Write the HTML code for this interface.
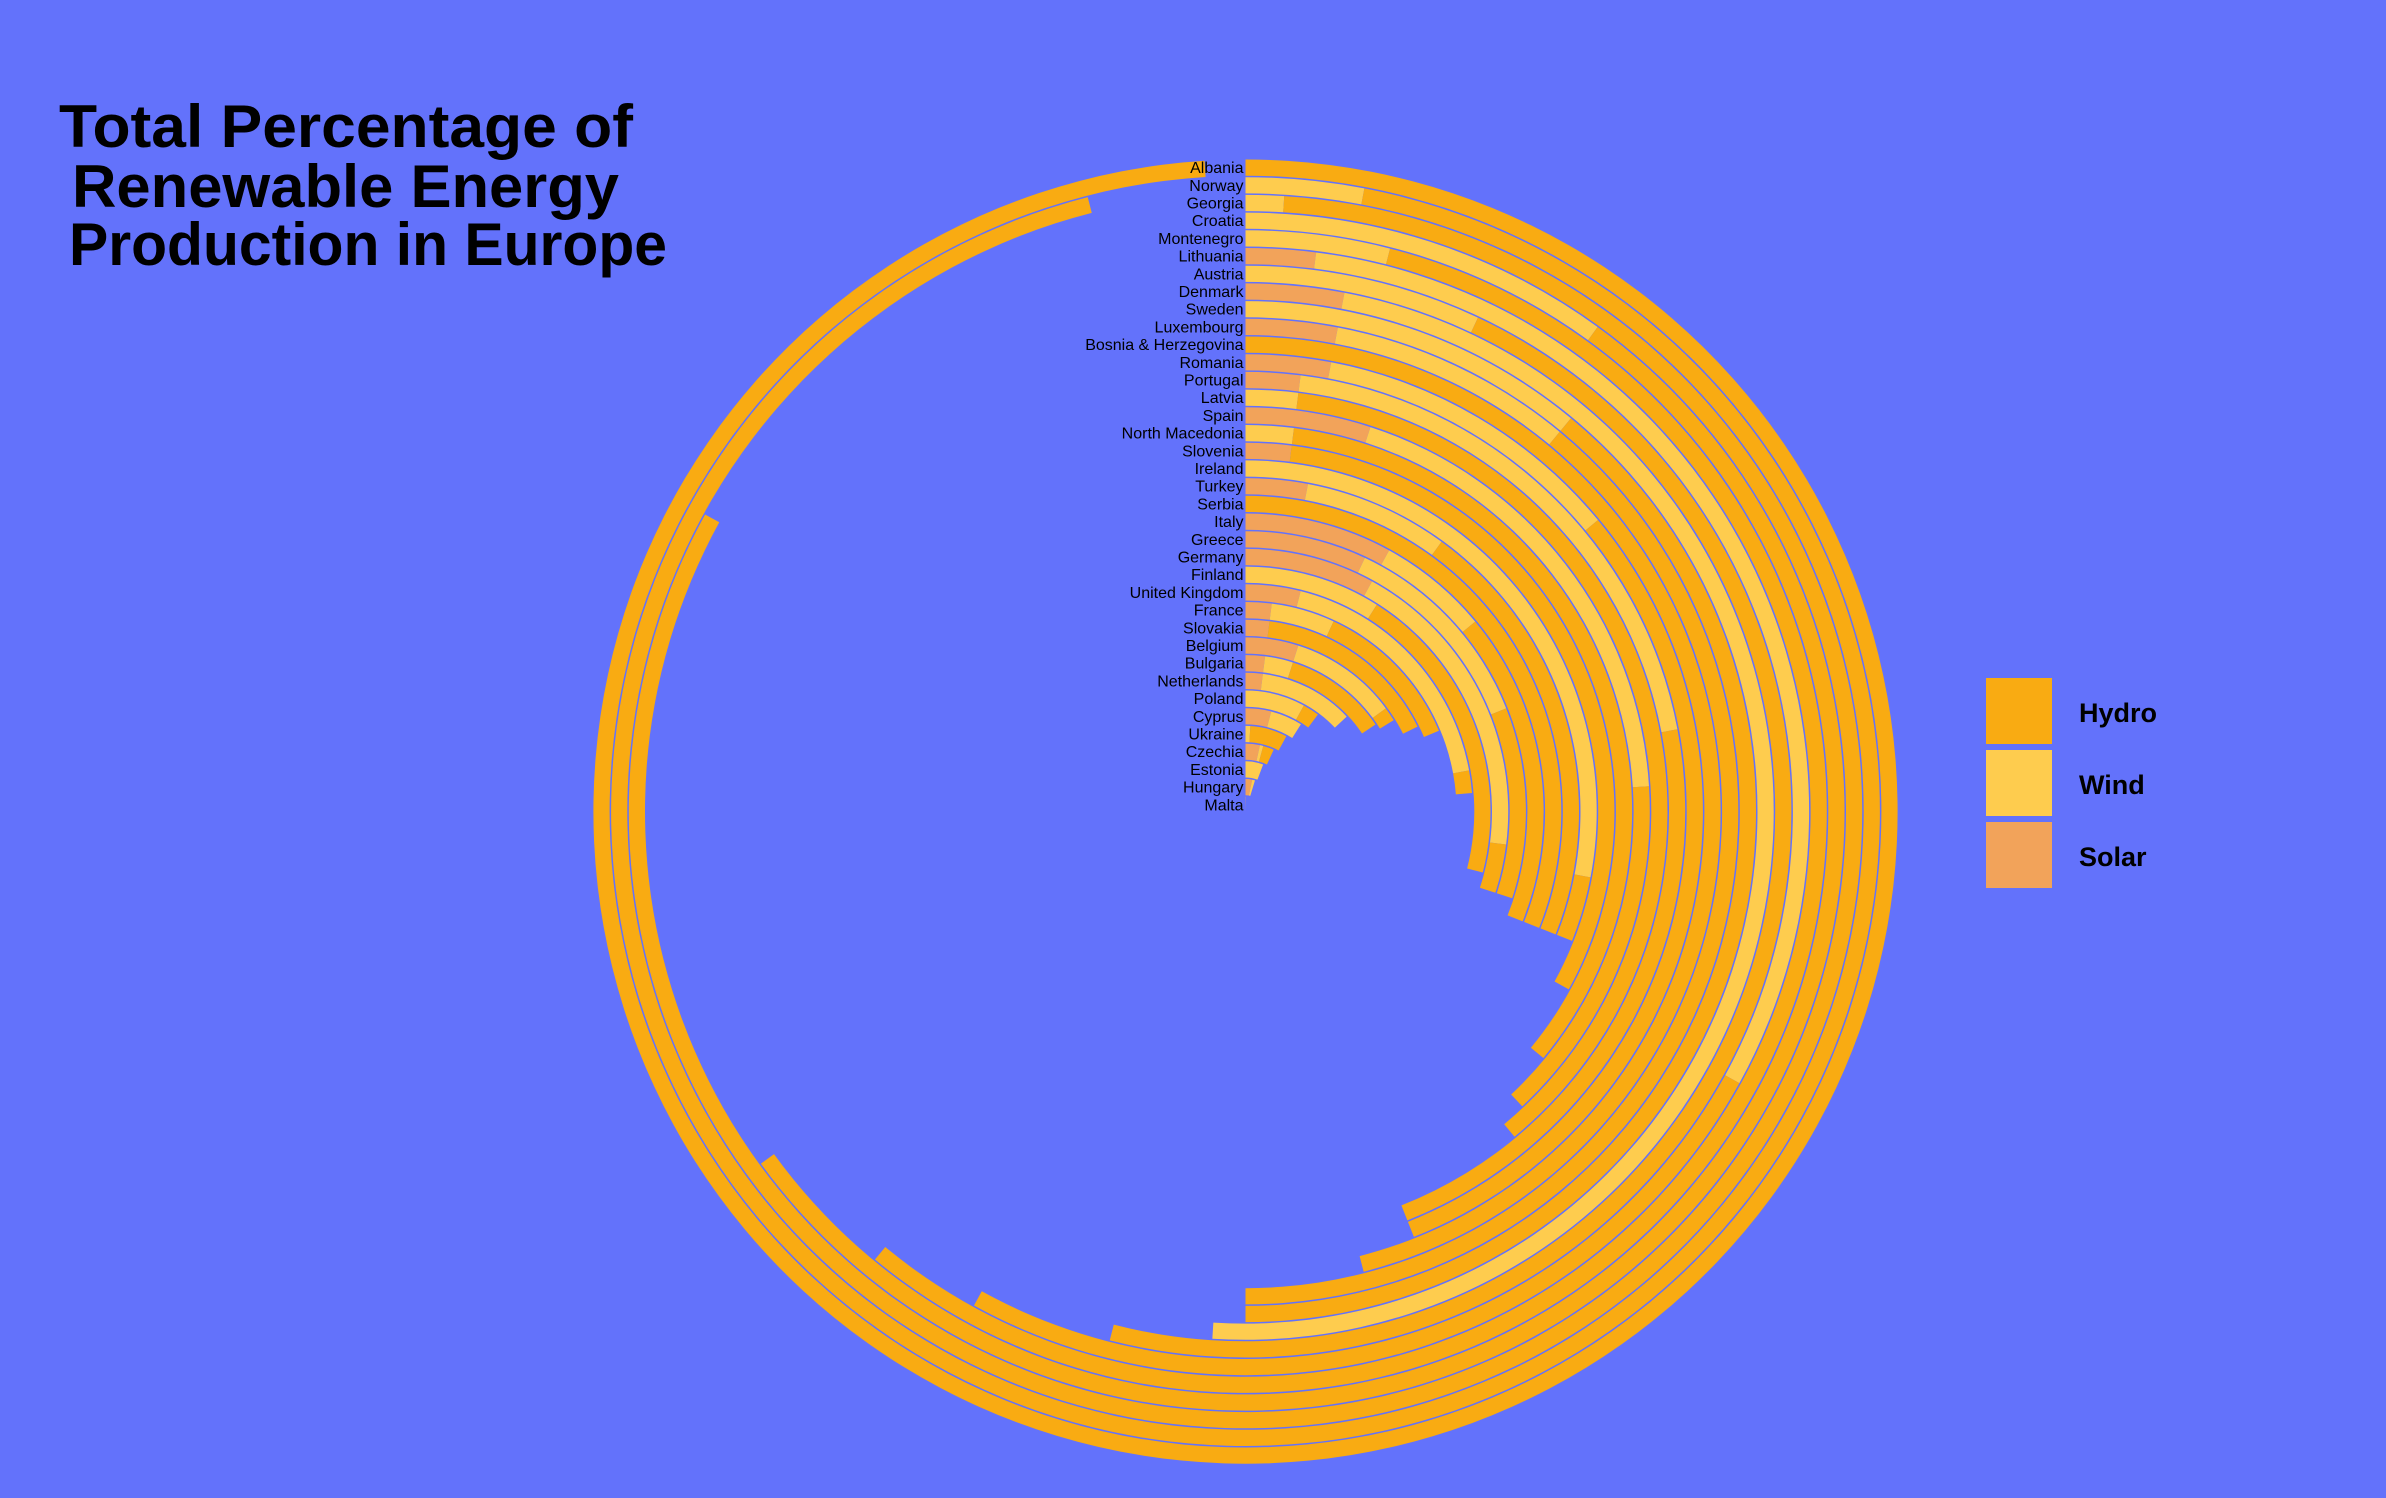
<!DOCTYPE html>
<html><head><meta charset="utf-8"><style>
html,body{margin:0;padding:0;background:#6372FB;}
svg{display:block;}
text{font-family:"Liberation Sans",sans-serif;}
</style></head><body>
<svg id="chart" width="2386" height="1498" viewBox="0 0 2386 1498" xmlns="http://www.w3.org/2000/svg">
<rect x="0" y="0" width="2386" height="1498" fill="#6372FB"/>
<g font-weight="bold" fill="#000" font-size="60">
<text x="59" y="147" textLength="574" lengthAdjust="spacingAndGlyphs">Total Percentage of</text>
<text x="72" y="207" textLength="547" lengthAdjust="spacingAndGlyphs">Renewable Energy</text>
<text x="69" y="265" textLength="598" lengthAdjust="spacingAndGlyphs">Production in Europe</text>
</g>
<g id="rings"></g>
<g id="labels"></g>
<g font-weight="bold" font-size="27" fill="#000">
<rect x="1986" y="678" width="66" height="66" fill="#F9AB12"/>
<text x="2079" y="722">Hydro</text>
<rect x="1986" y="750" width="66" height="66" fill="#FECC4E"/>
<text x="2079" y="794">Wind</text>
<rect x="1986" y="822" width="66" height="66" fill="#F2A35A"/>
<text x="2079" y="866">Solar</text>
</g>
</svg>
<script>
const countries = ["Albania","Norway","Georgia","Croatia","Montenegro","Lithuania","Austria","Denmark","Sweden","Luxembourg","Bosnia & Herzegovina","Romania","Portugal","Latvia","Spain","North Macedonia","Slovenia","Ireland","Turkey","Serbia","Italy","Greece","Germany","Finland","United Kingdom","France","Slovakia","Belgium","Bulgaria","Netherlands","Poland","Cyprus","Ukraine","Czechia","Estonia","Hungary","Malta"];
const solar = [0,0,0,0,0,2,0,3,0,3,0,3,2,0,5,0,2,0,3,0,8,7,8,0,3.9,2,2,4.9,2,2,0,4,0,3.4,0,3.3,0.3];
const wind  = [0,3,1,10,4,31,7,48,11,8,0,11,20,2,19,2,0,28,7,0,6,12,19,9,18.2,4.9,0,10,2.9,11,8,5,0.9,0.8,5.7,1.4,0];
const hydro = [99,93,82,55,57,25,47,0,39,39,46,30,22,37,14,34,31,3,21,31,17,11,3,20,1.6,11.8,15.7,1.3,10.7,0,2.2,0,7,2.6,0,0,0];
const maxValue = 100;
const cx = 1245.5, cy = 811.6, rOuter = 644, pitch = 17.7, thick = 16.2;
const colors = {solar:"#F2A35A", wind:"#FECC4E", hydro:"#F9AB12"};
const NS = "http://www.w3.org/2000/svg";
function angleScale(v){ return v / maxValue * 2 * Math.PI; }
function radiusScale(i){ return rOuter - pitch * i; }
function pt(r,a){ return [cx + r*Math.sin(a), cy - r*Math.cos(a)]; }
function sector(r0,r1,a0,a1){
  const large = (a1-a0) > Math.PI ? 1 : 0;
  const p1=pt(r1,a0), p2=pt(r1,a1), p3=pt(r0,a1), p4=pt(r0,a0);
  return `M${p1[0]},${p1[1]} A${r1},${r1} 0 ${large} 1 ${p2[0]},${p2[1]} L${p3[0]},${p3[1]} A${r0},${r0} 0 ${large} 0 ${p4[0]},${p4[1]} Z`;
}
const ringsG = document.getElementById('rings');
const labelsG = document.getElementById('labels');
countries.forEach((c,i)=>{
  const r = radiusScale(i);
  const r0 = r - thick/2, r1 = r + thick/2;
  let acc = 0;
  [["solar",solar[i]],["wind",wind[i]],["hydro",hydro[i]]].forEach(([k,v])=>{
    if(v<=0) return;
    const a0 = angleScale(acc), a1 = angleScale(acc+v);
    acc += v;
    const p = document.createElementNS(NS,'path');
    p.setAttribute('d', sector(r0,r1,a0,a1));
    p.setAttribute('fill', colors[k]);
    
    
    ringsG.appendChild(p);
  });
  const t = document.createElementNS(NS,'text');
  t.setAttribute('x', cx - 2);
  t.setAttribute('y', cy - r + 5.5);
  t.setAttribute('text-anchor','end');
  t.setAttribute('font-size','16');
  t.setAttribute('fill','#000');
  t.textContent = c;
  
  
  labelsG.appendChild(t);
});
</script>
</body></html>
